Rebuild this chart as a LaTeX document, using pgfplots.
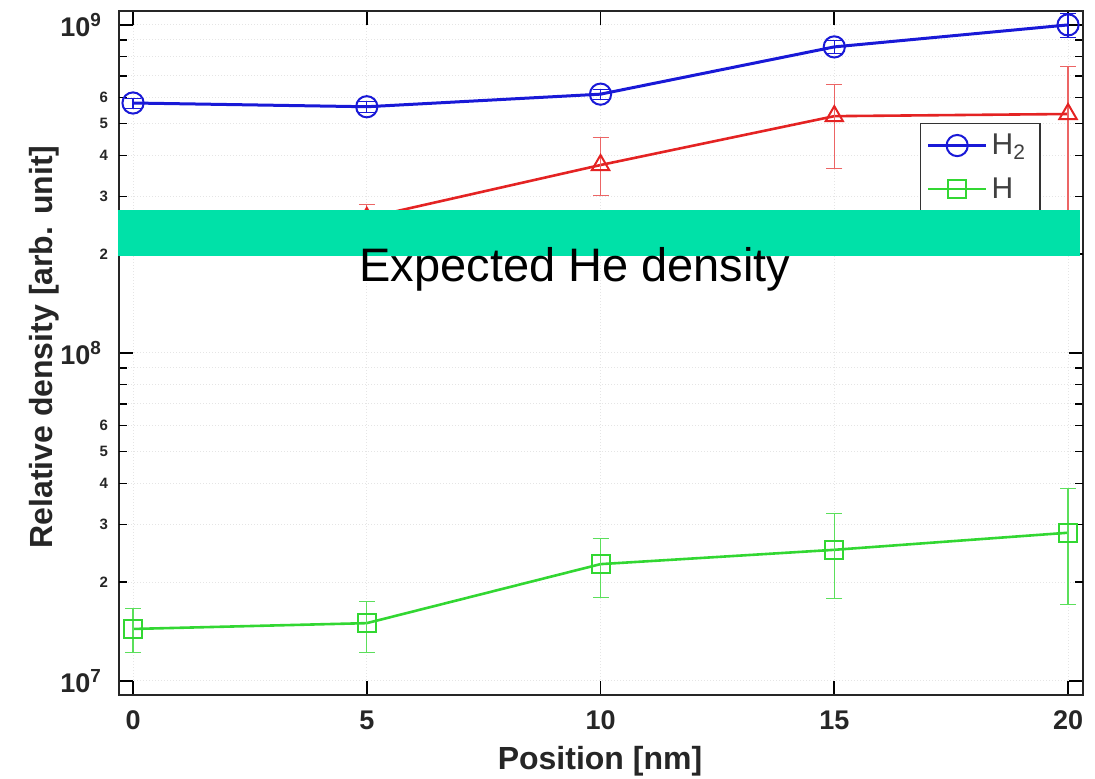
\documentclass[border=0pt]{standalone}
\usepackage{fontspec}
\setmainfont{Liberation Sans}
\usepackage{pgfplots}
\pgfplotsset{compat=1.18}
\definecolor{barcol}{RGB}{0,225,168}
\definecolor{mblue}{RGB}{25,25,215}
\definecolor{mred}{RGB}{228,35,35}
\definecolor{mgreen}{RGB}{50,215,50}
\begin{document}
\begin{tikzpicture}
\path[use as bounding box] (0,0) rectangle (547.5pt,389.5pt);
\begin{axis}[
  at={(59.5pt,42pt)}, anchor=south west,
  scale only axis, width=482pt, height=342pt,
  ymode=log, xmin=-0.3, xmax=20.32, ymin=9.06e6, ymax=1.103e9,
  xtick={0,5,10,15,20}, xticklabels={0,5,10,15,20},
  ytick={1e7,1e8,1e9},
  yticklabels={10\textsuperscript{7},10\textsuperscript{8},10\textsuperscript{9}},
  extra y ticks={2e7,3e7,4e7,5e7,6e7,2e8,3e8,4e8,5e8,6e8},
  extra y tick labels={2,3,4,5,6,2,3,4,5,6},
  extra y tick style={major tick length=4pt,
     yticklabel style={font=\fontsize{7.5}{8}\selectfont\bfseries, xshift=3pt}},
  tick align=inside,
  xtick pos=both, ytick pos=both,
  major tick length=7pt, minor tick length=4pt,
  tick style={black, line width=0.8pt},
  xmajorgrids, ymajorgrids, yminorgrids,
  major grid style={gray!20, line width=0.5pt, densely dotted},
  minor grid style={gray!20, line width=0.5pt, densely dotted},
  axis line style={black!85, line width=1.1pt},
  tick label style={font=\fontsize{13.5}{16}\selectfont\bfseries, text=black!85},
  xticklabel style={yshift=-4.5pt},
  yticklabel style={xshift=-5pt},
  clip=false,
  legend image code/.code={\draw[mark repeat=2, mark phase=2, #1] plot coordinates {(0pt,0pt) (14.5pt,0pt) (29pt,0pt)};},
  legend style={at={(0.831,0.836)}, anchor=north west,
     font=\fontsize{15}{17}\selectfont, text=black!75, draw=black!80, line width=0.6pt,
     row sep=6pt, inner sep=3pt},
  legend cell align=left,
]
\addplot[mblue, line width=1.5pt, mark=o, mark size=5.3pt,
   mark options={solid, line width=1pt, fill=none},
   error bars/.cd, y dir=both, y explicit,
   error bar style={line width=0.6pt}, error mark options={rotate=90, mark size=4pt}]
 coordinates {
 (0,5.78e8) += (0,0.2e8) -= (0,0.2e8)
 (5,5.63e8) += (0,0.2e8) -= (0,0.2e8)
 (10,6.15e8) += (0,0.22e8) -= (0,0.22e8)
 (15,8.57e8) += (0,0.4e8) -= (0,0.4e8)
 (20,1.0e9) += (0,0.085e9) -= (0,0.085e9)
 };
\addlegendentry{H\textsubscript{2}}
\addplot[mgreen, line width=1.3pt, mark=square, mark size=4.5pt,
   mark options={solid, line width=1pt, fill=none},
   error bars/.cd, y dir=both, y explicit,
   error bar style={line width=0.6pt, mgreen!80}, error mark options={rotate=90, mark size=4pt, mgreen!80}]
 coordinates {
 (0,1.44e7) += (0,0.22e7) -= (0,0.215e7)
 (5,1.50e7) += (0,0.25e7) -= (0,0.275e7)
 (10,2.27e7) += (0,0.44e7) -= (0,0.47e7)
 (15,2.51e7) += (0,0.72e7) -= (0,0.72e7)
 (20,2.83e7) += (0,1.02e7) -= (0,1.12e7)
 };
\addlegendentry{H}
\addplot[mred, line width=1.3pt, mark=triangle, mark size=5pt,
   mark options={solid, line width=1pt, fill=none},
   error bars/.cd, y dir=both, y explicit,
   error bar style={line width=0.6pt, mred!70}, error mark options={rotate=90, mark size=4pt, mred!70}]
 coordinates {
 (5,2.58e8) += (0,0.26e8) -= (0,0.25e8)
 (10,3.74e8) += (0,0.81e8) -= (0,0.71e8)
 (15,5.27e8) += (0,1.33e8) -= (0,1.61e8)
 (20,5.35e8) += (0,2.10e8) -= (0,2.8e8)
 };
\addlegendentry{He}
\coordinate (barSW) at (axis cs:-0.32,1.971e8);
\coordinate (barNE) at (axis cs:20.26,2.723e8);
\end{axis}
\fill[barcol] (barSW) rectangle (barNE);
\node[anchor=base, inner sep=0pt, font=\fontsize{23.5}{28}\selectfont] at (287.5pt,248.5pt) {Expected He density};
\node[anchor=base, inner sep=0pt, font=\fontsize{16}{19}\selectfont\bfseries, text=black!85] at (300pt,4.5pt) {Position [nm]};
\node[anchor=base, rotate=90, inner sep=0pt, font=\fontsize{16}{19}\selectfont\bfseries, text=black!85] at (26pt,216pt) {Relative density [arb. unit]};
\end{tikzpicture}
\end{document}
